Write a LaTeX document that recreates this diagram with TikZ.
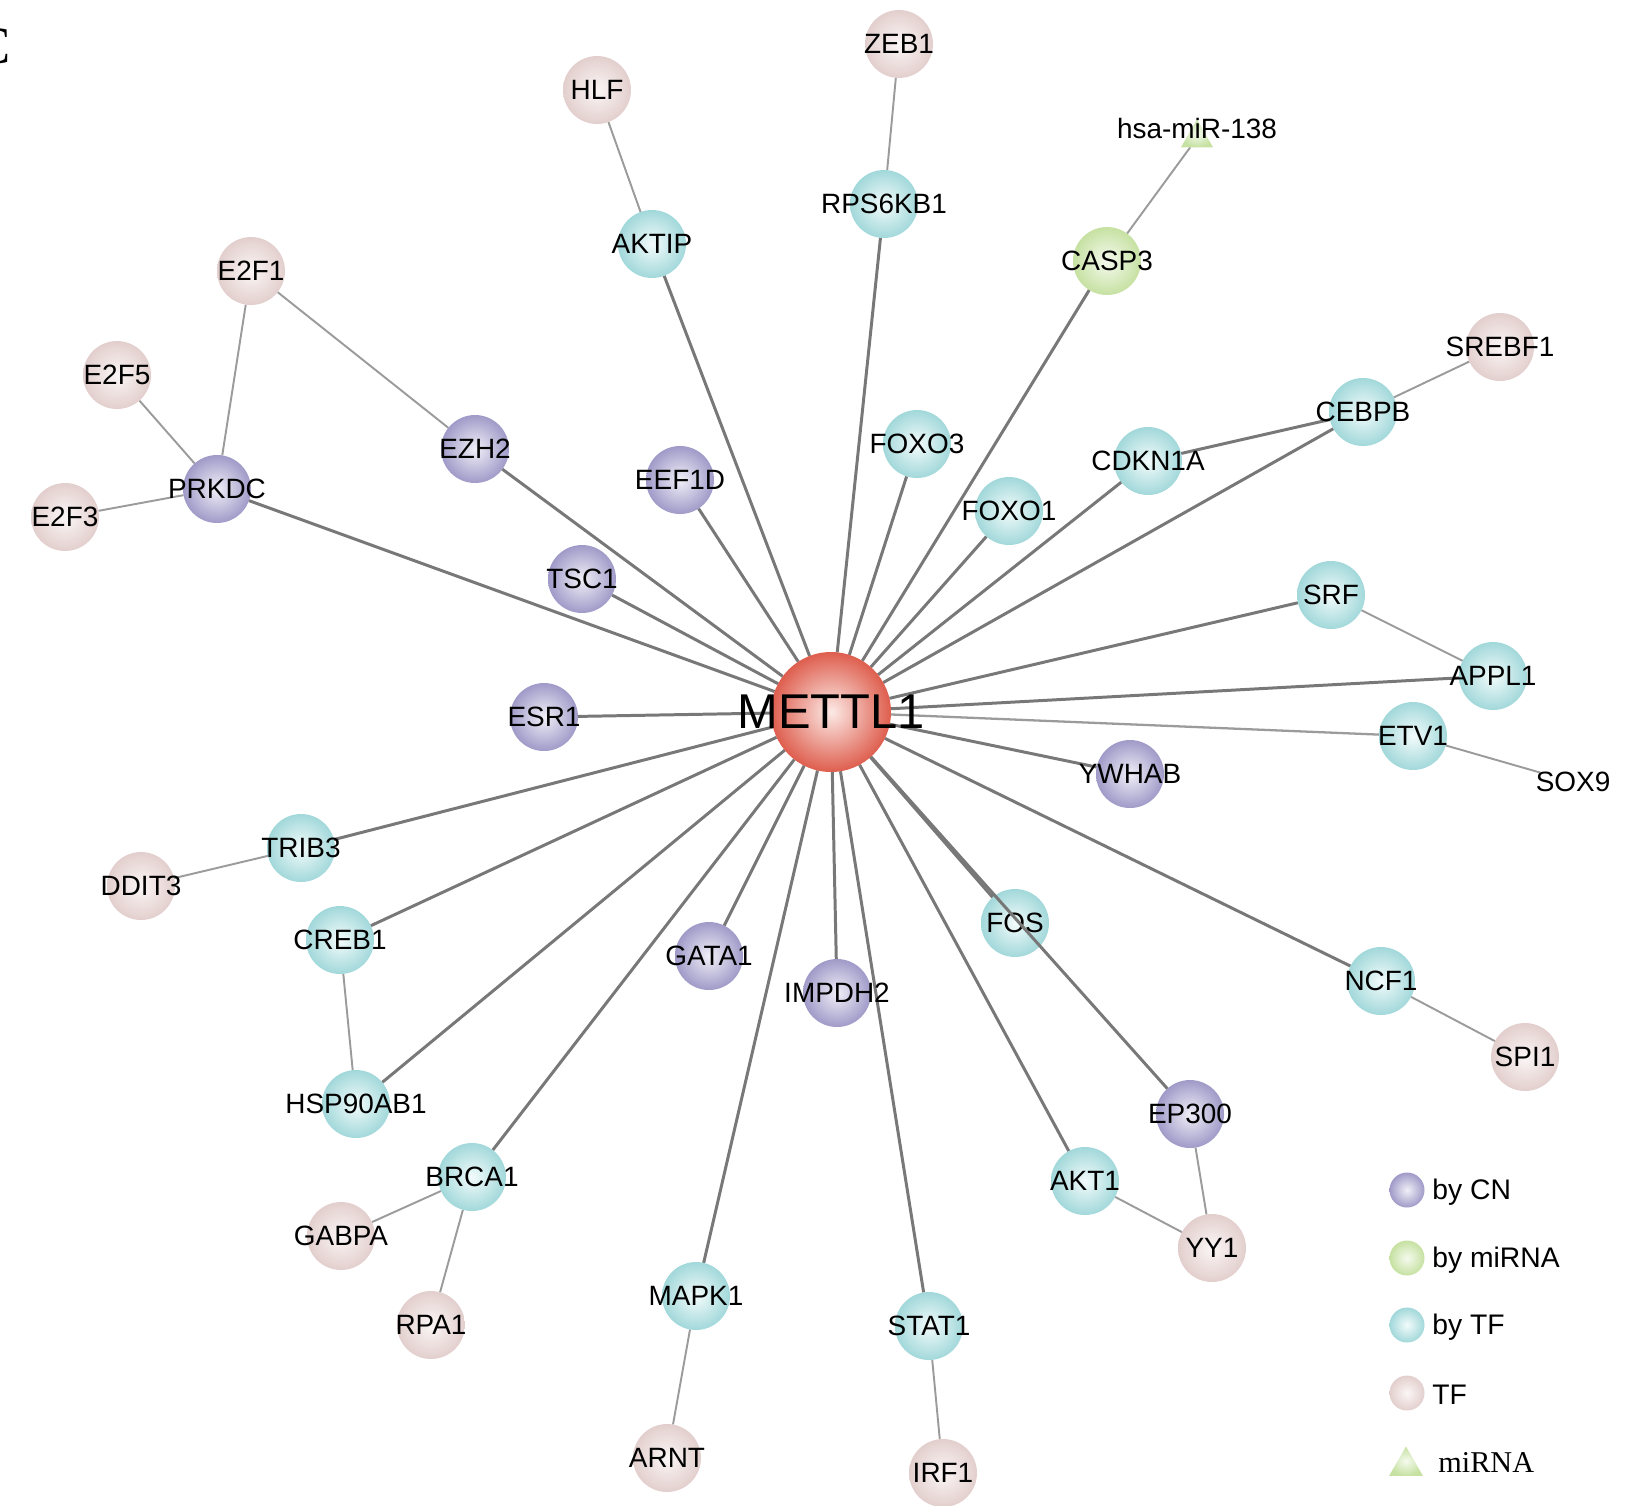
\documentclass[tikz,border=0pt]{standalone}
\usepackage{fontspec}
\setmainfont{Liberation Sans}
\newfontfamily\serifface{Liberation Serif}
\usetikzlibrary{shapes.geometric}
\pgfdeclarelayer{background}
\pgfsetlayers{background,main}

\definecolor{cnOut}{RGB}{160,154,200}
\definecolor{cnIn}{RGB}{240,239,247}
\definecolor{mirOut}{RGB}{198,225,162}
\definecolor{mirIn}{RGB}{245,250,238}
\definecolor{bytfOut}{RGB}{162,216,218}
\definecolor{bytfIn}{RGB}{243,251,251}
\definecolor{tfOut}{RGB}{226,207,205}
\definecolor{tfIn}{RGB}{251,246,246}
\definecolor{hubOut}{RGB}{222,94,78}
\definecolor{hubIn}{RGB}{252,234,230}
\definecolor{edgeGray}{RGB}{120,120,120}
\definecolor{subGray}{RGB}{155,155,155}

\newcommand{\genefont}{\fontsize{15.9}{18}\selectfont}
\newcommand{\hubfont}{\fontsize{27.8}{32}\selectfont}
\newcommand{\legendfont}{\fontsize{16.1}{19}\selectfont}

\begin{document}
\begin{tikzpicture}[x=0.02cm, y=-0.02cm,
    gene/.style={circle, minimum size=1.36cm, inner sep=0pt, outer sep=0pt},
    cn/.style={gene, inner color=cnIn, outer color=cnOut},
    bymir/.style={gene, inner color=mirIn, outer color=mirOut},
    bytf/.style={gene, inner color=bytfIn, outer color=bytfOut},
    tf/.style={gene, inner color=tfIn, outer color=tfOut},
    hub/.style={gene, minimum size=2.4cm, inner color=hubIn, outer color=hubOut},
    mirna/.style={regular polygon, regular polygon sides=3, minimum size=0.74cm,
        inner sep=0pt, outer sep=0pt, inner color=mirIn, outer color=mirOut},
    legdot/.style={circle, minimum size=0.7cm, inner sep=0pt},
    legtext/.style={anchor=west, inner sep=0pt, font=\legendfont},
    link/.style={draw=edgeGray, line width=1.7pt},
    sublink/.style={draw=subGray, line width=1.1pt},
    every label/.style={font=\genefont, inner sep=0pt, text=black},
  ]
  \useasboundingbox (0,0) rectangle (1629,1505);

  % panel letter
  \node[font=\serifface\fontsize{30}{34}\selectfont, inner sep=0pt] (panel) at (-7,46) {C};

  % centre
  \node[hub, label={[font=\hubfont]center:METTL1}] (mettl1) at (831,712) {};

  % first ring
  \node[bytf,  label={center:AKTIP}]    (aktip)    at (652,244) {};
  \node[bytf,  label={center:RPS6KB1}]  (rps6kb1)  at (884,204) {};
  \node[bymir, label={center:CASP3}]    (casp3)    at (1107,261) {};
  \node[bytf,  label={center:FOXO3}]    (foxo3)    at (917,444) {};
  \node[bytf,  label={center:FOXO1}]    (foxo1)    at (1009,511) {};
  \node[bytf,  label={center:CDKN1A}]   (cdkn1a)   at (1148,461) {};
  \node[bytf,  label={center:CEBPB}]    (cebpb)    at (1363,412) {};
  \node[bytf,  label={center:SRF}]      (srf)      at (1331,595) {};
  \node[bytf,  label={center:APPL1}]    (appl1)    at (1493,676) {};
  \node[bytf,  label={center:ETV1}]     (etv1)     at (1413,736) {};
  \node[cn,    label={center:YWHAB}]    (ywhab)    at (1130,774) {};
  \node[bytf,  label={center:NCF1}]     (ncf1)     at (1381,981) {};
  \node[bytf,  label={center:FOS}]      (fos)      at (1015,923) {};
  \node[cn,    label={center:EP300}]    (ep300)    at (1190,1114) {};
  \node[bytf,  label={center:AKT1}]     (akt1)     at (1085,1181) {};
  \node[bytf,  label={center:STAT1}]    (stat1)    at (929,1326) {};
  \node[cn,    label={center:IMPDH2}]   (impdh2)   at (837,993) {};
  \node[bytf,  label={center:MAPK1}]    (mapk1)    at (696,1296) {};
  \node[cn,    label={center:GATA1}]    (gata1)    at (709,956) {};
  \node[bytf,  label={center:BRCA1}]    (brca1)    at (472,1177) {};
  \node[bytf,  label={center:HSP90AB1}] (hsp90ab1) at (356,1104) {};
  \node[bytf,  label={center:CREB1}]    (creb1)    at (340,940) {};
  \node[bytf,  label={center:TRIB3}]    (trib3)    at (301,848) {};
  \node[cn,    label={center:ESR1}]     (esr1)     at (544,717) {};
  \node[cn,    label={center:PRKDC}]    (prkdc)    at (217,489) {};
  \node[cn,    label={center:TSC1}]     (tsc1)     at (582,579) {};
  \node[cn,    label={center:EZH2}]     (ezh2)     at (475,449) {};
  \node[cn,    label={center:EEF1D}]    (eef1d)    at (680,480) {};

  % regulators
  \node[tf, label={center:ZEB1}]   (zeb1)   at (899,44) {};
  \node[tf, label={center:HLF}]    (hlf)    at (597,90) {};
  \node[mirna, label={[yshift=0.18cm]center:hsa-miR-138}] (mir138) at (1197,138) {};
  \node[tf, label={center:E2F1}]   (e2f1)   at (251,271) {};
  \node[tf, label={center:E2F5}]   (e2f5)   at (117,375) {};
  \node[tf, label={center:E2F3}]   (e2f3)   at (65,517) {};
  \node[tf, label={center:SREBF1}] (srebf1) at (1500,347) {};
  \node[gene, label={center:SOX9}] (sox9)   at (1573,782) {};
  \node[tf, label={center:DDIT3}]  (ddit3)  at (141,886) {};
  \node[tf, label={center:SPI1}]   (spi1)   at (1525,1057) {};
  \node[tf, label={center:YY1}]    (yy1)    at (1212,1248) {};
  \node[tf, label={center:GABPA}]  (gabpa)  at (341,1236) {};
  \node[tf, label={center:RPA1}]   (rpa1)   at (431,1325) {};
  \node[tf, label={center:ARNT}]   (arnt)   at (667,1458) {};
  \node[tf, label={center:IRF1}]   (irf1)   at (943,1473) {};

  \begin{pgfonlayer}{background}
    \foreach \g in {aktip, rps6kb1, casp3, foxo3, foxo1, cdkn1a, cebpb, srf,
                    appl1, ywhab, ncf1, fos, akt1, stat1, impdh2, mapk1,
                    gata1, brca1, hsp90ab1, creb1, trib3, esr1, prkdc, tsc1,
                    ezh2, eef1d}
      \draw[link] (mettl1) -- (\g);
    \draw[link, line width=1.3pt, draw=subGray] (mettl1) -- (etv1);
    \draw[link] (cdkn1a) -- (cebpb);

    \draw[sublink] (zeb1) -- (rps6kb1);
    \draw[sublink] (hlf) -- (aktip);
    \draw[sublink] (mir138) -- (casp3);
    \draw[sublink] (e2f1) -- (prkdc);
    \draw[sublink] (e2f1) -- (ezh2);
    \draw[sublink] (e2f5) -- (prkdc);
    \draw[sublink] (e2f3) -- (prkdc);
    \draw[sublink] (srebf1) -- (cebpb);
    \draw[sublink] (srf) -- (appl1);
    \draw[sublink] (etv1) -- (sox9);
    \draw[sublink] (ddit3) -- (trib3);
    \draw[sublink] (creb1) -- (hsp90ab1);
    \draw[sublink] (ncf1) -- (spi1);
    \draw[sublink] (ep300) -- (yy1);
    \draw[sublink] (akt1) -- (yy1);
    \draw[sublink] (brca1) -- (gabpa);
    \draw[sublink] (brca1) -- (rpa1);
    \draw[sublink] (mapk1) -- (arnt);
    \draw[sublink] (stat1) -- (irf1);
  \end{pgfonlayer}
  \draw[link] (mettl1) -- (ep300);

  % legend
  \node[legdot, inner color=cnIn, outer color=cnOut]     (legcn)  at (1407,1190) {};
  \node[legdot, inner color=mirIn, outer color=mirOut]   (legmir) at (1407,1258) {};
  \node[legdot, inner color=bytfIn, outer color=bytfOut] (legbytf) at (1407,1325) {};
  \node[legdot, inner color=tfIn, outer color=tfOut]     (legtf)  at (1407,1393) {};
  \node[mirna, minimum size=0.78cm] (legmirna) at (1406,1466) {};
  \node[legtext] at (1432,1192) {by CN};
  \node[legtext] at (1432,1260) {by miRNA};
  \node[legtext] at (1432,1327) {by TF};
  \node[legtext] at (1432,1395) {TF};
  \node[legtext, font=\serifface\fontsize{17.2}{20}\selectfont] at (1438,1462) {miRNA};
\end{tikzpicture}
\end{document}
